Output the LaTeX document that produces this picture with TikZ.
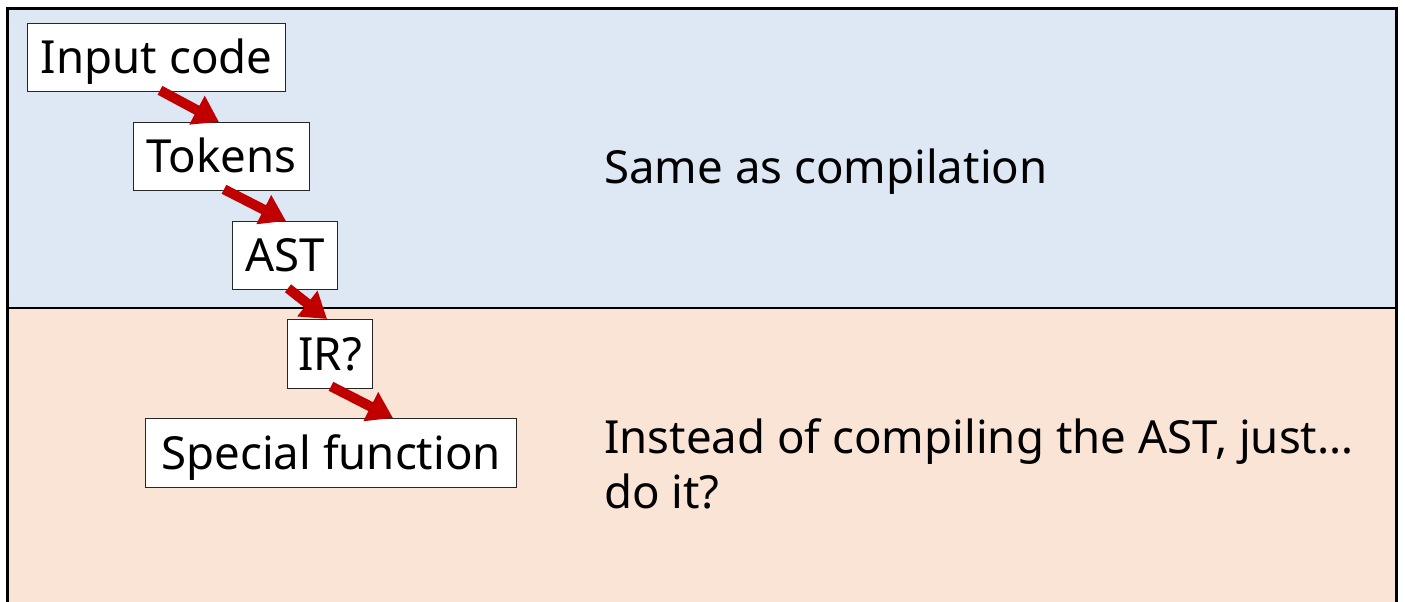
\documentclass[tikz,border=0pt]{standalone}
\usepackage{fontspec}
\setmainfont{Noto Sans}
\usetikzlibrary{arrows.meta}
\definecolor{paneblue}{HTML}{DEE8F4}
\definecolor{panepeach}{HTML}{FAE4D6}
\definecolor{flowred}{HTML}{C00000}
\begin{document}
\begin{tikzpicture}[x=1pt,y=-1pt,
  stage/.style={draw=black!85, line width=1.3pt, fill=white, inner sep=0pt,
    text height=38pt, text depth=6pt,
    font=\fontsize{45.6}{54}\selectfont, anchor=north west},
  flow/.style={draw=flowred, line width=10pt,
    -{Triangle[length=25pt,width=31pt]}},
  note/.style={font=\fontsize{45.6}{55}\selectfont, anchor=base west, inner sep=0pt, align=left}]
\useasboundingbox (0,0) rectangle (1405,602);
% two panels
\fill[paneblue] (7,9) rectangle (1396,308);
\fill[panepeach] (7,308) rectangle (1396,606);
\draw[line width=2pt] (7,308) -- (1396,308);
\draw[line width=3pt] (7,606) -- (7,9) -- (1396,9) -- (1396,606);
% pipeline stages
\node[stage, minimum width=258pt, minimum height=68pt] (input) at (27,23) {Input code};
\node[stage, minimum width=176pt, minimum height=68pt] (tokens) at (133,122) {Tokens};
\node[stage, minimum width=105pt, minimum height=68pt] (ast) at (232,221) {AST};
\node[stage, minimum width=85pt, minimum height=69pt] (ir) at (287,319) {IR?};
\node[stage, minimum width=371pt, minimum height=69pt] (special) at (145,418) {Special function};
% arrows between stages
\draw[flow] ([xshift=133pt,yshift=2pt]input.south west) -- ([xshift=86pt]tokens.north west);
\draw[flow] ([xshift=91pt,yshift=2pt]tokens.south west) -- ([xshift=54pt]ast.north west);
\draw[flow] ([xshift=56pt,yshift=2pt]ast.south west) -- ([xshift=40pt]ir.north west);
\draw[flow] ([xshift=44pt,yshift=3pt]ir.south west) -- ([xshift=248pt]special.north west);
% descriptions
\node[note] (same) at (604,183) {Same as compilation};
\node[note] (instead) at (604,508) {Instead of compiling the AST, just…\\do it?};
\end{tikzpicture}
\end{document}
